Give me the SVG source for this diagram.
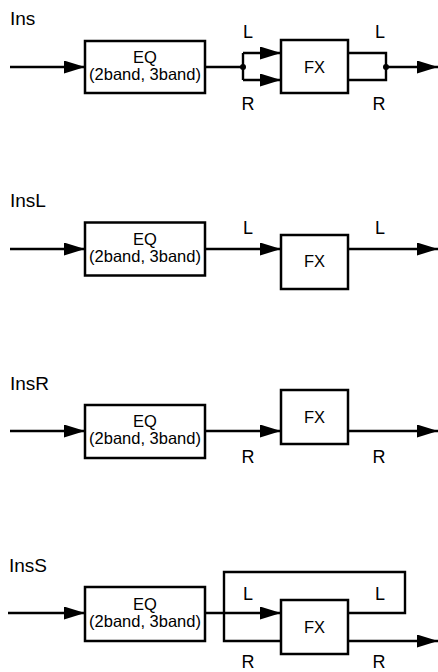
<svg xmlns="http://www.w3.org/2000/svg" width="438" height="672" viewBox="0 0 438 672">
<style>
.box{fill:#fff;stroke:#000;stroke-width:2.5}
.ln{fill:none;stroke:#000;stroke-width:2.4}
.t{font-family:"Liberation Sans",Arial,sans-serif;fill:#000}
.title{font-size:19px}
.eq{font-size:16.5px;text-anchor:middle}
.fx{font-size:16.5px;text-anchor:middle}
.lab{font-size:18px;text-anchor:middle}
</style>
<defs>
<marker id="arr" markerUnits="userSpaceOnUse" markerWidth="21" markerHeight="13" refX="21" refY="6.5" orient="auto">
<path d="M0,0 L21,6.5 L0,13 z" fill="#000"/>
</marker>
</defs>
<g id="connectors">
<line class="ln" x1="10" y1="67" x2="85" y2="67" marker-end="url(#arr)"/>
<path class="ln" d="M205,67 H243"/>
<path class="ln" d="M243,53 V80"/>
<line class="ln" x1="243" y1="53" x2="281" y2="53" marker-end="url(#arr)"/>
<line class="ln" x1="243" y1="80" x2="281" y2="80" marker-end="url(#arr)"/>
<circle cx="243" cy="67" r="3" fill="#000"/>
<path class="ln" d="M348,53 H386 V80 H348"/>
<circle cx="386" cy="67" r="3" fill="#000"/>
<line class="ln" x1="386" y1="67" x2="438" y2="67" marker-end="url(#arr)"/>
<line class="ln" x1="10" y1="249" x2="85" y2="249" marker-end="url(#arr)"/>
<line class="ln" x1="205" y1="249" x2="281" y2="249" marker-end="url(#arr)"/>
<line class="ln" x1="348" y1="249" x2="438" y2="249" marker-end="url(#arr)"/>
<line class="ln" x1="10" y1="431" x2="85" y2="431" marker-end="url(#arr)"/>
<line class="ln" x1="205" y1="431" x2="281" y2="431" marker-end="url(#arr)"/>
<line class="ln" x1="348" y1="431" x2="438" y2="431" marker-end="url(#arr)"/>
<line class="ln" x1="8" y1="613" x2="85" y2="613" marker-end="url(#arr)"/>
<path class="ln" d="M348,613 H405 V572 H224 V641 H281"/>
<line class="ln" x1="205" y1="613" x2="281" y2="613" marker-end="url(#arr)"/>
<line class="ln" x1="348" y1="641" x2="438" y2="641" marker-end="url(#arr)"/>
</g>
<g id="ins">
<text class="t title" x="10" y="25">Ins</text>
<text class="t lab" x="248" y="38">L</text>
<text class="t lab" x="248" y="110">R</text>
<text class="t lab" x="380" y="38">L</text>
<text class="t lab" x="379" y="110">R</text>
</g>
<g id="eq1">
<rect class="box" x="85" y="41" width="120" height="52"/>
<text class="t eq" x="145" y="63">EQ</text>
<text class="t eq" x="145" y="80">(2band, 3band)</text>
</g>
<g id="fx1">
<rect class="box" x="281" y="40" width="67" height="53"/>
<text class="t fx" x="314.5" y="73">FX</text>
</g>
<g id="insl">
<text class="t title" x="10" y="207">InsL</text>
<text class="t lab" x="248" y="234">L</text>
<text class="t lab" x="380" y="234">L</text>
</g>
<g id="eq2">
<rect class="box" x="85" y="222.5" width="120" height="53"/>
<text class="t eq" x="145" y="245">EQ</text>
<text class="t eq" x="145" y="262">(2band, 3band)</text>
</g>
<g id="fx2">
<rect class="box" x="281" y="235" width="67" height="54"/>
<text class="t fx" x="314.5" y="267">FX</text>
</g>
<g id="insr">
<text class="t title" x="10" y="390">InsR</text>
<text class="t lab" x="248" y="463">R</text>
<text class="t lab" x="379" y="463">R</text>
</g>
<g id="eq3">
<rect class="box" x="85" y="405" width="120" height="53"/>
<text class="t eq" x="145" y="427">EQ</text>
<text class="t eq" x="145" y="444">(2band, 3band)</text>
</g>
<g id="fx3">
<rect class="box" x="281" y="390" width="67" height="54"/>
<text class="t fx" x="314.5" y="423">FX</text>
</g>
<g id="inss">
<text class="t title" x="9" y="572">InsS</text>
<text class="t lab" x="248" y="600">L</text>
<text class="t lab" x="380" y="600">L</text>
<text class="t lab" x="248" y="668">R</text>
<text class="t lab" x="379" y="668">R</text>
</g>
<g id="eq4">
<rect class="box" x="85" y="587" width="120" height="54"/>
<text class="t eq" x="145" y="610">EQ</text>
<text class="t eq" x="145" y="627">(2band, 3band)</text>
</g>
<g id="fx4">
<rect class="box" x="281" y="600" width="67" height="54"/>
<text class="t fx" x="314.5" y="633">FX</text>
</g>
</svg>
